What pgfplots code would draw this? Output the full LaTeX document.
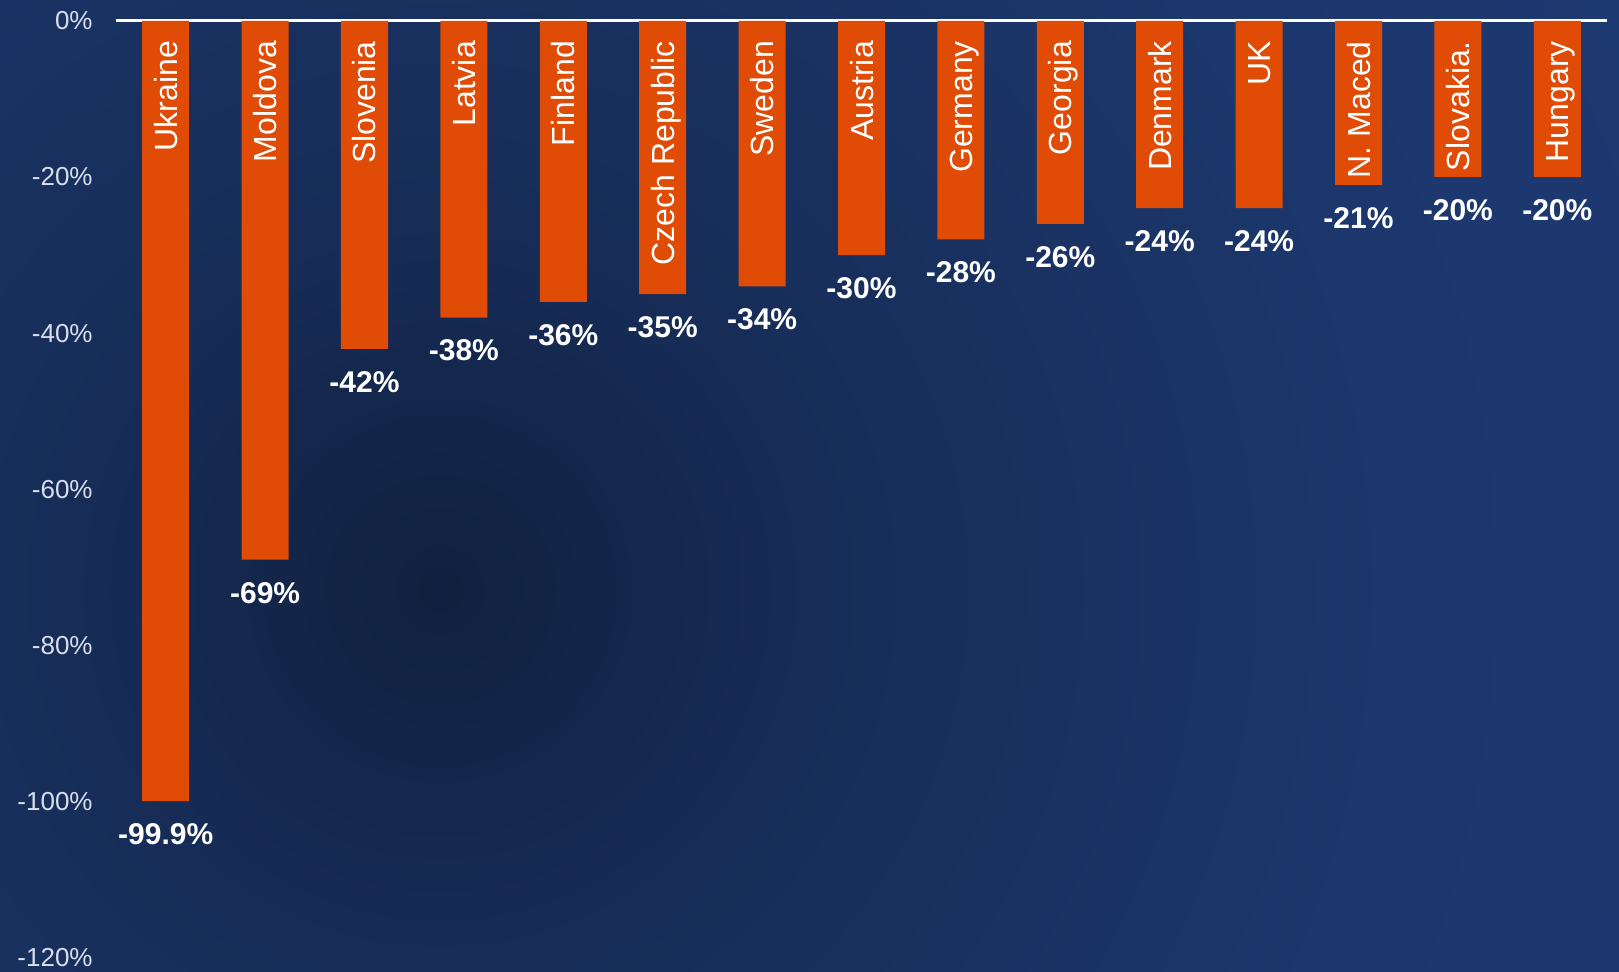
\documentclass[border=0pt]{standalone}
\usepackage{pgfplots}
\pgfplotsset{compat=1.18}
\usepackage{fontspec}
\setmainfont{Liberation Sans}
\definecolor{barorange}{HTML}{E04B05}
\definecolor{bgouter}{HTML}{1F3D7C}
\definecolor{bgmid}{HTML}{1C376C}
\definecolor{bgin}{HTML}{172D58}
\definecolor{bgcore}{HTML}{10203F}
\definecolor{ticktext}{HTML}{D8DEEA}
% 1bp of the shading = 24pt on the page (circle radius 1200pt = 50bp)
\pgfdeclareradialshading{glow}{\pgfpoint{0bp}{0bp}}{%
  color(0bp)=(bgcore); color(4bp)=(bgin); color(10bp)=(bgmid);
  color(22bp)=(bgouter); color(50bp)=(bgouter)}
\begin{document}
\begin{tikzpicture}
\useasboundingbox (0,0) rectangle (809.5pt,486pt);
\fill[bgouter] (0,0) rectangle (809.5pt,486pt);
\begin{scope}
  \clip (0,0) rectangle (809.5pt,486pt);
  \shade[shading=glow] (220pt,191pt) circle (1200pt);
\end{scope}
\begin{axis}[
  at={(58pt,7pt)}, anchor=south west,
  scale only axis, width=745.5pt, height=468.6pt,
  xmin=-0.5, xmax=14.5, ymin=-120, ymax=0,
  axis line style={draw=none},
  xtick=\empty, ytick={-120,-100,...,0},
  major tick length=0pt,
  yticklabel={\pgfmathprintnumber{\tick}\%},
  /pgf/number format/assume math mode=true,
  yticklabel style={font=\fontsize{13}{15}\selectfont, text=ticktext,
    anchor=east, inner sep=0pt, xshift=-11.5pt},
  extra y ticks={0}, extra y tick labels={},
  extra tick style={grid=major, major grid style={white, line width=1.5pt}},
  clip=false,
]
% fall in value
\addplot[ybar, bar width=23.5pt, fill=barorange, draw=none,
  nodes near coords={\pgfmathprintnumber[fixed,precision=1]{\pgfplotspointmeta}\%},
  nodes near coords style={font=\bfseries\fontsize{15}{17}\selectfont,
    text=white, anchor=north, inner sep=0pt, yshift=-11pt}]
  coordinates {(0,-99.9) (1,-69) (2,-42) (3,-38) (4,-36) (5,-35) (6,-34)
    (7,-30) (8,-28) (9,-26) (10,-24) (11,-24) (12,-21) (13,-20) (14,-20)};
% country names inside the bars
\addplot[draw=none, mark=none, point meta=explicit symbolic,
  nodes near coords,
  nodes near coords style={yshift=-10pt, rotate=90, anchor=east,
    font=\fontsize{16}{18}\selectfont, text=white, inner sep=0pt,
    text height=11.5pt, text depth=0pt}]
  coordinates {(0,0)[Ukraine] (1,0)[Moldova] (2,0)[Slovenia] (3,0)[Latvia]
    (4,0)[Finland] (5,0)[Czech Republic] (6,0)[Sweden] (7,0)[Austria]
    (8,0)[Germany] (9,0)[Georgia] (10,0)[Denmark] (11,0)[UK]
    (12,0)[N. Maced] (13,0)[Slovakia.] (14,0)[Hungary]};
\end{axis}
\end{tikzpicture}
\end{document}
